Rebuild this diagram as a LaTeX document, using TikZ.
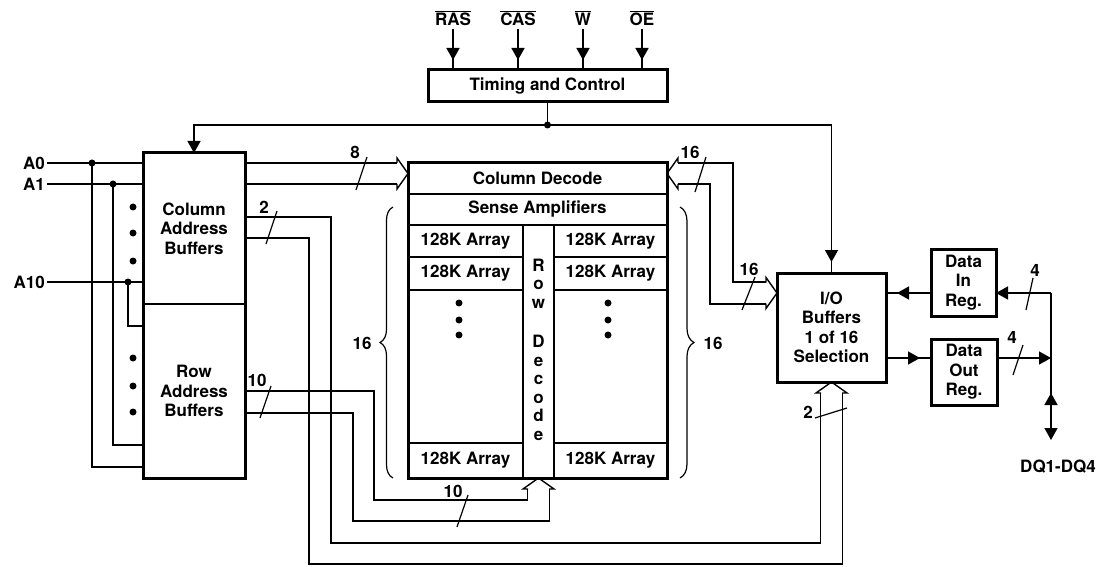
\documentclass[tikz,border=0pt]{standalone}
\usepackage{fontspec}
\setmainfont{TeX Gyre Heros}
\usetikzlibrary{arrows.meta, positioning, calc, decorations.pathreplacing, decorations.markings}

\begin{document}
\begin{tikzpicture}[x=1pt, y=-1pt,
    font=\bfseries\fontsize{17}{19.5}\selectfont,
    box/.style={draw, line width=3pt, inner sep=0pt, outer sep=0pt, align=center},
    cell/.style={draw, line width=1.3pt, inner sep=0pt, outer sep=0pt, align=center},
    outline/.style={line width=3pt},
    wire/.style={line width=1.4pt},
    tipend/.style={wire, -{Triangle[width=13pt,length=12pt]}},
    tipat/.style={wire, postaction={decorate}, decoration={markings,
        mark=at position #1 with {\arrow{Triangle[width=13pt,length=12pt]}}}},
    num/.style={inner sep=1pt},
    busmark/.style={line width=1.2pt},
    bushead/.pic={\draw[wire, line join=miter]
        (-11,-10.5) -- (-11,-15.5) -- (0,0) -- (-11,15.5) -- (-11,10.5);}
]
\useasboundingbox (0,0) rectangle (1101,567);

% Timing and control with its inputs
\node[box, minimum width=239pt, minimum height=32pt] (tc) at (547.5,86) {Timing and Control};
\node (ras) at (453,18) {$\overline{\hbox{RAS}}$};
\node (cas) at (518,18) {$\overline{\hbox{CAS}}$};
\node (wr)  at (583,18) {$\overline{\hbox{W}}$};
\node (oe)  at (642,18) {$\overline{\hbox{OE}}$};
\foreach \s in {ras,cas,wr,oe}
    \draw[tipat=-10pt] (\s.south) -- (\s.south |- tc.north);

% Address buffers
\node[cell, minimum width=102pt, minimum height=151pt] (cab) at (194,228.5) {Column\\Address\\Buffers};
\node[cell, minimum width=102pt, minimum height=174pt] (rab) at (194,391) {Row\\Address\\Buffers};
\draw[outline] (cab.north west) rectangle (rab.south east);
\foreach \y in {207,233,261,358,386,412}
    \fill (133,\y) circle (3.5pt);

% Address inputs
\node[anchor=east, inner sep=2pt] (a0) at (47,163) {A0};
\node[anchor=east, inner sep=2pt] (a1) at (47,184) {A1};
\node[anchor=east, inner sep=2pt] (a10) at (47,282) {A10};
\foreach \a in {a0,a1,a10}
    \draw[wire] (\a.east) -- (\a.east -| cab.west);
\coordinate (j0) at (92,163);
\coordinate (j1) at (113,184);
\coordinate (j10) at (128,282);
\draw[wire] (j0) |- ($(rab.south west)+(0,-11)$);
\draw[wire] (j1) |- ($(rab.south west)+(0,-33)$);
\draw[wire] (j10) |- ($(rab.north west)+(0,22)$);
\foreach \j in {j0,j1,j10}
    \fill (\j) circle (3.5pt);

% Memory array
\node[cell, minimum width=259pt, minimum height=31pt] (cd) at (537.5,178.5) {Column Decode};
\node[cell, minimum width=259pt, minimum height=31pt] (sa) at (537.5,209.5) {Sense Amplifiers};
\node[cell, minimum width=115pt, minimum height=32pt] (la1) at (465.5,241) {128K Array};
\node[cell, minimum width=115pt, minimum height=33pt] (la2) at (465.5,273.5) {128K Array};
\node[cell, minimum width=115pt, minimum height=35pt] (la3) at (465.5,460.5) {128K Array};
\node[cell, minimum width=113pt, minimum height=32pt] (ra1) at (610.5,241) {128K Array};
\node[cell, minimum width=113pt, minimum height=33pt] (ra2) at (610.5,273.5) {128K Array};
\node[cell, minimum width=113pt, minimum height=35pt] (ra3) at (610.5,460.5) {128K Array};
\node[cell, minimum width=31pt, minimum height=253pt] (rd) at (538.5,351.5) {};
\node[inner sep=0pt, align=center, font=\bfseries\fontsize{17}{18.5}\selectfont] (rdtext) at (538.5,349.5)
    {R\\o\\w\\[21pt]D\\e\\c\\o\\d\\e};
\draw[outline] (cd.north west) rectangle (ra3.south east);
\foreach \y in {303,320,335} {
    \fill (459,\y) circle (3.5pt);
    \fill (608,\y) circle (3.5pt);
}

% Braces
\draw[line width=1.2pt, decorate, decoration={brace, amplitude=13pt}] (393,478) -- (393,207);
\node (n16l) at (362,343) {16};
\draw[line width=1.2pt, decorate, decoration={brace, amplitude=14pt}] (680,207) -- (680,478);
\node (n16r) at (713,343) {16};

% I/O and data registers
\node[box, minimum width=109pt, minimum height=109pt] (io) at (831.5,327.5) {I/O\\Buffers\\1 of 16\\Selection};
\node[box, minimum width=65pt, minimum height=67pt] (din) at (963.5,282.5) {Data\\In\\Reg.};
\node[box, minimum width=66pt, minimum height=66pt] (dout) at (964,372) {Data\\Out\\Reg.};
\node (dq) at (1058,467) {DQ1-DQ4};
\coordinate (dqtop) at (1051,293);
\coordinate (dqout) at (1051,358);
\coordinate (dqbot) at (1051,440);

% Control line
\coordinate (ctl) at (547.5,125);
\draw[wire] (tc.south) -- (ctl);
\draw[tipend] (ctl) -| (cab.north);
\draw[tipat=-11pt] (ctl) -| (io.north);
\fill (ctl) circle (3.5pt);

% Column address bus to column decode
\draw[wire] (cab.east |- cd.north) -- ($(cd.north west)+(-11,0)$);
\draw[wire] ($(cab.east |- cd.north)+(0,21)$) -- ($(cd.north west)+(-11,21)$);
\pic at ($(cd.north west)+(0,10.5)$) {bushead};
\draw[busmark] (367,157) -- (356,190);
\node[num] (n8) at (355,152) {8};

% Row address bus to row decode
\draw[wire] (rab.east) -- ++(129,0) |- ($(rd.south)+(-11,22)$) -- ++(0,-11);
\draw[wire] ($(rab.east)+(0,22)$) -- ++(108,0) |- ($(rd.south)+(11,43)$) -- ++(0,-32);
\pic[rotate=90] at (rd.south) {bushead};
\draw[busmark] (271,386) -- (260,418);
\node[num] (n10a) at (257,380) {10};
\draw[busmark] (468,495) -- (457,527);
\node[num] (n10b) at (453,491) {10};

% Column address bus to I/O selection
\draw[wire] ($(cab.east)+(0,-11.5)$) -- ++(86,0) |- ($(io.south)+(-11,161)$) -- ++(0,-150);
\draw[wire] ($(cab.east)+(0,9.5)$) -- ++(64,0) |- ($(io.south)+(11,182)$) -- ++(0,-171);
\pic[rotate=90] at (io.south) {bushead};
\draw[busmark] (277,211) -- (266,244);
\node[num] (n2a) at (264,207) {2};
\draw[busmark] (815,418) -- (847,408);
\node[num] (n2b) at (808,412) {2};

% Column decode data bus to I/O
\draw[wire] ($(cd.north east)+(11,0)$) -- ++(55,0) |- ($(io.west)+(-11,-45.5)$);
\draw[wire] ($(cd.north east)+(11,21)$) -- ++(32,0) |- ($(io.west)+(-11,-23.5)$);
\pic[rotate=180] at ($(cd.north east)+(0,10.5)$) {bushead};
\pic at ($(io.west)+(0,-34.5)$) {bushead};
\draw[busmark] (706,157) -- (695,192);
\node[num] (n16a) at (690,152) {16};
\draw[busmark] (755,277) -- (742,310);
\node[num] (n16b) at (749,269) {16};

% Data path
\draw[tipat=-11pt] (din.west |- dqtop) -- (io.east |- dqtop);
\draw[tipend] (dqtop) -- (din.east |- dqtop);
\draw[tipat=-11pt] (io.east |- dqout) -- (dout.west |- dqout);
\draw[tipend] (dout.east |- dqout) -- (dqout);
\draw[tipend, postaction={decorate}, decoration={markings,
    mark=at position 100pt with {\arrowreversed{Triangle[width=13pt,length=12pt]}}}] (dqtop) -- (dqbot);
\draw[busmark] (1033,278) -- (1026,310);
\node[num] (n4a) at (1035,270) {4};
\draw[busmark] (1023,345) -- (1013,375);
\node[num] (n4b) at (1012,337) {4};

\end{tikzpicture}
\end{document}
